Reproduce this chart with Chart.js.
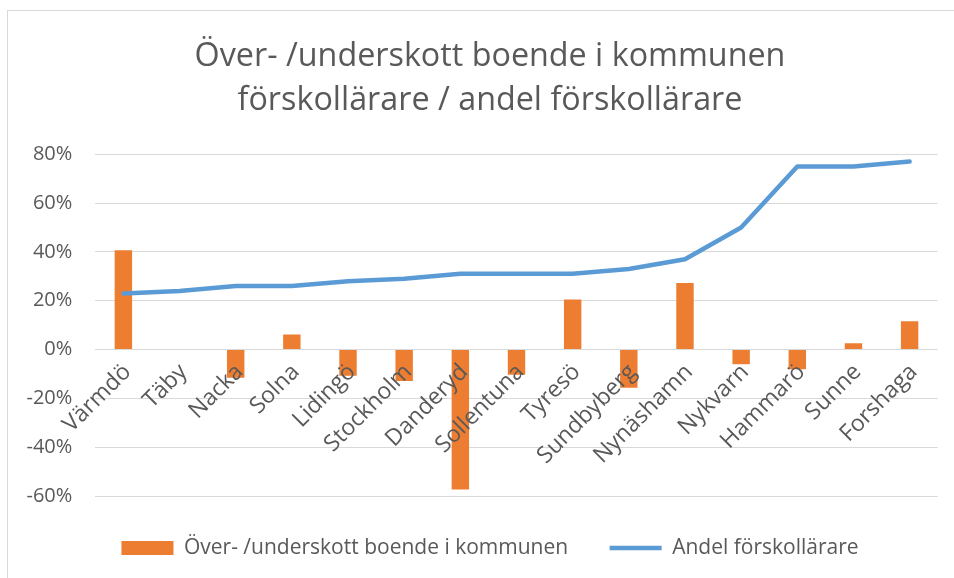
<!DOCTYPE html>
<html>
<head>
<meta charset="utf-8">
<title>Över- /underskott boende i kommunen</title>
<script src="https://cdn.jsdelivr.net/npm/chart.js@4"></script>
<style>
  body { margin: 0; background: #fff; overflow: hidden; }
  #frame {
    position: absolute; left: 7px; top: 10px;
    width: 964px; height: 580px;
    border-left: 1px solid #d9d9d9; border-top: 1px solid #d9d9d9;
  }
</style>
</head>
<body>
<div id="frame"><canvas id="myChart" width="964" height="580"></canvas></div>
<script>
// data (percent)
var kommuner = ["Värmdö", "Täby", "Nacka", "Solna", "Lidingö", "Stockholm", "Danderyd", "Sollentuna",
                "Tyresö", "Sundbyberg", "Nynäshamn", "Nykvarn", "Hammarö", "Sunne", "Forshaga"];
var overUnderskott = [40.7, 0, -11.6, 6.2, -10.7, -12.9, -57.3, -10.3, 20.5, -15.7, 27.3, -6.0, -8.1, 2.6, 11.6];
var andelForskollarare = [23, 24, 26, 26, 28, 29, 31, 31, 31, 33, 37, 50, 75, 75, 77];
var yTicks = [-60, -40, -20, 0, 20, 40, 60, 80];

var barLabel = "Över- /underskott boende i kommunen";
var lineLabel = "Andel förskollärare";
var titleLines = ["Över- /underskott boende i kommunen", "förskollärare / andel förskollärare"];

var orange = '#ED7D31';
var blue = '#5B9BD5';
var textGrey = '#595959';
var gridGrey = '#D9D9D9';

Chart.defaults.font.family = "'Open Sans', sans-serif";
Chart.defaults.color = textGrey;

var ctx = document.getElementById('myChart').getContext('2d');

var chart = new Chart(ctx, {
    type: 'bar',
    data: {
        labels: kommuner,
        datasets: [{
            type: 'bar',
            label: barLabel,
            data: overUnderskott,
            backgroundColor: orange,
            borderWidth: 0,
            barPercentage: 0.31,
            categoryPercentage: 1,
            pointStyle: 'rect',
            order: 2
        }, {
            type: 'line',
            label: lineLabel,
            data: andelForskollarare,
            borderColor: blue,
            backgroundColor: blue,
            borderWidth: 4.5,
            borderCapStyle: 'round',
            borderJoinStyle: 'round',
            tension: 0,
            pointRadius: 0,
            pointStyle: 'line',
            fill: false,
            order: 1
        }]
    },
    options: {
        responsive: false,
        devicePixelRatio: 1,
        animation: false,
        layout: { padding: { left: 0, right: 0, top: 0, bottom: 22.5 } },
        plugins: {
            title: {
                display: true,
                text: titleLines,
                color: textGrey,
                font: { size: 32.3, weight: 'normal', lineHeight: 1.36 },
                padding: { top: 24, bottom: 31.4 }
            },
            legend: {
                position: 'bottom',
                labels: {
                    usePointStyle: true,
                    pointStyleWidth: 52,
                    boxWidth: 52,
                    boxHeight: 14,
                    padding: 41.5,
                    color: textGrey,
                    font: { size: 21 },
                    // keep the bars first in the legend
                    sort: function(a, b) { return a.datasetIndex - b.datasetIndex; }
                }
            },
            tooltip: { enabled: false }
        },
        scales: {
            x: {
                position: { y: 0 },
                grid: { display: false, drawTicks: false },
                border: { display: false },
                ticks: {
                    z: 1, // category names are painted over the bars
                    autoSkip: false,
                    minRotation: 45,
                    maxRotation: 45,
                    padding: 9,
                    labelOffset: 4,
                    color: textGrey,
                    font: { size: 23 }
                },
                // labels hang from the 0 line, they take no room
                afterFit: function(scale) { scale.height = 0; }
            },
            y: {
                min: -60,
                max: 80,
                afterBuildTicks: function(scale) {
                    scale.ticks = yTicks.map(function(v) { return { value: v }; });
                },
                grid: { color: gridGrey, lineWidth: 1, drawTicks: false },
                border: { display: false },
                ticks: {
                    padding: 23,
                    color: textGrey,
                    font: { size: 20 },
                    callback: function(v) { return v + '%'; }
                },
                afterFit: function(scale) { scale.width = 87.3; }
            },
            // empty right axis, only keeps some room on the right side
            // so the title and legend stay centred on the frame
            spacer: {
                type: 'linear',
                position: 'right',
                grid: { display: false, drawTicks: false },
                border: { display: false },
                ticks: { display: false },
                afterFit: function(scale) { scale.width = 34.3; }
            }
        }
    }
});
</script>
</body>
</html>
